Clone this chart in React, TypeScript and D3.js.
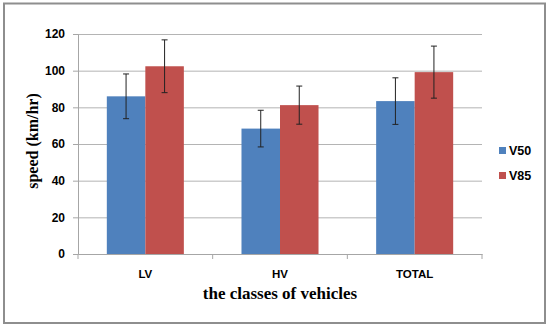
import { useEffect, useRef } from "react";
import * as d3 from "d3";

const categories = ["LV", "HV", "TOTAL"];
const seriesNames = ["V50", "V85"];
const v50 = [86, 68.4, 83.4];
const v85 = [102.4, 81.2, 99.2];
const v50Err = [12.2, 10, 12.7];
const v85Err = [14.4, 10.4, 14.2];
const yTicks = [0, 20, 40, 60, 80, 100, 120];

const COLORS = ["#4F81BD", "#C0504D"];
const W = 550;
const H = 327;

export default function App() {
  const svgRef = useRef<SVGSVGElement>(null);

  useEffect(() => {
    if (!svgRef.current) return;
    const svg = d3.select(svgRef.current);
    svg.selectAll("*").remove();

    const margin = { top: 34, right: 68, bottom: 73, left: 78 };
    const innerW = W - margin.left - margin.right;
    const innerH = H - margin.top - margin.bottom;

    // outer frame
    svg
      .append("rect")
      .attr("x", 4)
      .attr("y", 3.5)
      .attr("width", 541)
      .attr("height", 319.5)
      .attr("fill", "#fff")
      .attr("stroke", "#8e8e8e")
      .attr("stroke-width", 2);

    const x0 = d3.scaleBand().domain(categories).range([0, innerW]);
    const bw = x0.bandwidth();
    const x1 = d3
      .scaleBand()
      .domain(seriesNames)
      .range([bw * 0.214, bw * 0.786]);
    const y = d3.scaleLinear().domain([0, 120]).range([innerH, 0]);

    const g = svg
      .append("g")
      .attr("transform", `translate(${margin.left},${margin.top})`);

    // grid
    g.append("g")
      .call(d3.axisLeft(y).tickValues(yTicks.slice(1)).tickSize(-innerW).tickFormat(() => ""))
      .call((a) => {
        a.select(".domain").remove();
        a.selectAll("line").attr("stroke", "#b4b4b4").attr("stroke-width", 1);
      });

    // y axis
    g.append("g")
      .call(d3.axisLeft(y).tickValues(yTicks).tickSize(5).tickPadding(8))
      .call((a) => {
        a.select(".domain").attr("stroke", "#a6a6a6");
        a.selectAll("line").attr("stroke", "#a6a6a6");
        a.selectAll("text")
          .attr("fill", "#000")
          .attr("font-family", "Liberation Sans, Arial, sans-serif")
          .attr("font-weight", "bold")
          .attr("font-size", "12px");
      });

    const data = [v50, v85];
    const errs = [v50Err, v85Err];

    seriesNames.forEach((s, si) => {
      categories.forEach((c, ci) => {
        const bx = (x0(c) ?? 0) + (x1(s) ?? 0);
        const val = data[si][ci];
        g.append("rect")
          .attr("x", bx)
          .attr("y", y(val))
          .attr("width", x1.bandwidth())
          .attr("height", innerH - y(val))
          .attr("fill", COLORS[si]);
      });
    });

    // error bars
    seriesNames.forEach((s, si) => {
      categories.forEach((c, ci) => {
        const cx = (x0(c) ?? 0) + (x1(s) ?? 0) + x1.bandwidth() / 2;
        const val = data[si][ci];
        const e = errs[si][ci];
        const eg = g.append("g").attr("stroke", "#222").attr("stroke-width", 1);
        eg.append("line").attr("x1", cx).attr("x2", cx).attr("y1", y(val + e)).attr("y2", y(val - e));
        [val + e, val - e].forEach((v) => {
          eg.append("line")
            .attr("x1", cx - 3)
            .attr("x2", cx + 3)
            .attr("y1", y(v))
            .attr("y2", y(v));
        });
      });
    });

    // x axis
    g.append("g")
      .attr("transform", `translate(0,${innerH})`)
      .call(d3.axisBottom(x0).tickSize(0).tickPadding(16))
      .call((a) => {
        a.select(".domain").attr("stroke", "#a6a6a6");
        a.selectAll("text")
          .attr("fill", "#000")
          .attr("font-family", "Liberation Sans, Arial, sans-serif")
          .attr("font-weight", "bold")
          .attr("font-size", "11.5px");
      });
    // category boundary ticks
    const bounds = [0, ...categories.map((c) => (x0(c) ?? 0) + bw)];
    bounds.forEach((bx) => {
      g.append("line")
        .attr("x1", bx)
        .attr("x2", bx)
        .attr("y1", innerH)
        .attr("y2", innerH + 5)
        .attr("stroke", "#a6a6a6");
    });

    // axis titles
    svg
      .append("text")
      .attr("x", margin.left + innerW / 2)
      .attr("y", 299)
      .attr("text-anchor", "middle")
      .attr("font-family", "Liberation Serif, Times New Roman, serif")
      .attr("font-weight", "bold")
      .attr("font-size", "17px")
      .text("the classes of vehicles");

    svg
      .append("text")
      .attr("transform", `translate(38,141) rotate(-90)`)
      .attr("text-anchor", "middle")
      .attr("font-family", "Liberation Serif, Times New Roman, serif")
      .attr("font-weight", "bold")
      .attr("font-size", "16px")
      .text("speed (km/hr)");

    // legend
    seriesNames.forEach((s, i) => {
      const ly = 147 + i * 25;
      svg
        .append("rect")
        .attr("x", 499)
        .attr("y", ly)
        .attr("width", 7)
        .attr("height", 7)
        .attr("fill", COLORS[i]);
      svg
        .append("text")
        .attr("x", 509)
        .attr("y", ly + 8)
        .attr("font-family", "Liberation Sans, Arial, sans-serif")
        .attr("font-weight", "bold")
        .attr("font-size", "12.5px")
        .attr("fill", "#000")
        .text(s);
    });
  }, []);

  return (
    <div style={{ position: "absolute", left: 0, top: 0 }}>
      <svg ref={svgRef} width={W} height={H} style={{ display: "block" }} />
    </div>
  );
}
